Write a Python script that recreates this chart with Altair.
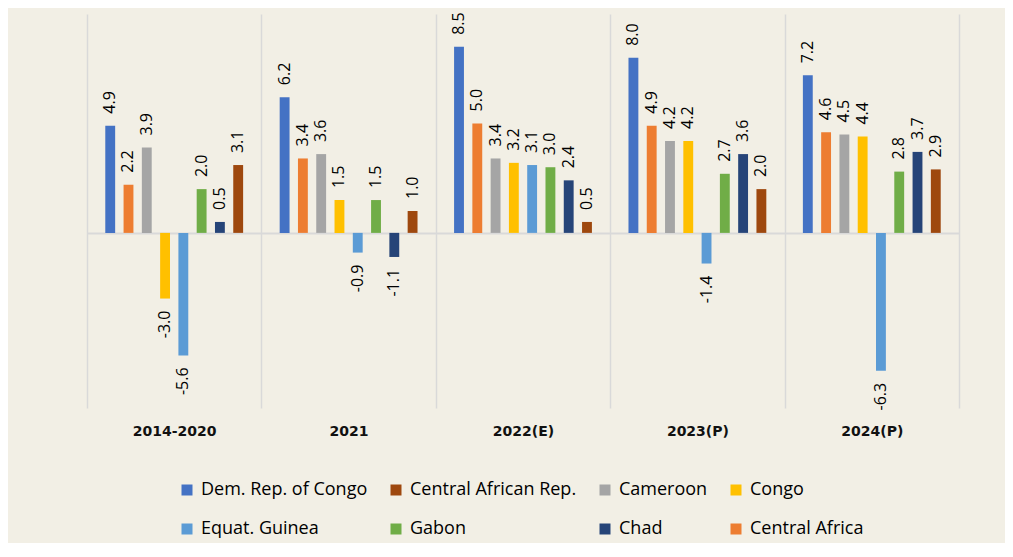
import altair as alt
import pandas as pd

periods = ["2014-2020", "2021", "2022(E)", "2023(P)", "2024(P)"]

bar_order = ["Dem. Rep. of Congo", "Central Africa", "Cameroon", "Congo",
             "Equat. Guinea", "Gabon", "Chad", "Central African Rep."]
legend_order = ["Dem. Rep. of Congo", "Central African Rep.", "Cameroon", "Congo",
                "Equat. Guinea", "Gabon", "Chad", "Central Africa"]
legend_colors = ["#4472C4", "#9E480E", "#A5A5A5", "#FFC000",
                 "#5B9BD5", "#70AD47", "#264478", "#ED7D31"]

drc = [4.9, 6.2, 8.5, 8.0, 7.2]
central_africa = [2.2, 3.4, 5.0, 4.9, 4.6]
cameroon = [3.9, 3.6, 3.4, 4.2, 4.5]
congo = [-3.0, 1.5, 3.2, 4.2, 4.4]
equat_guinea = [-5.6, -0.9, 3.1, -1.4, -6.3]
gabon = [2.0, 1.5, 3.0, 2.7, 2.8]
chad = [0.5, -1.1, 2.4, 3.6, 3.7]
car = [3.1, 1.0, 0.5, 2.0, 2.9]

series = {
    "Dem. Rep. of Congo": drc,
    "Central Africa": central_africa,
    "Cameroon": cameroon,
    "Congo": congo,
    "Equat. Guinea": equat_guinea,
    "Gabon": gabon,
    "Chad": chad,
    "Central African Rep.": car,
}

rows = []
for country, vals in series.items():
    for p, v in zip(periods, vals):
        rows.append({"period": p, "country": country, "value": v, "label": f"{v:.1f}",
                     "pos": v >= 0})
df = pd.DataFrame(rows)

FONT = "Open Sans"

x_enc = alt.X(
    "period:N",
    sort=periods,
    scale=alt.Scale(paddingInner=0, paddingOuter=0),
    axis=alt.Axis(
        title=None, tickBand="extent", grid=True, gridColor="#D9D9D9", gridWidth=1.5,
        domain=False, ticks=False, labelAngle=0, labelFont="DejaVu Sans",
        labelFontSize=14, labelFontWeight="bold", labelColor="#111111", labelPadding=16,
    ),
)
xoff_enc = alt.XOffset("country:N", sort=bar_order,
                       scale=alt.Scale(paddingInner=0.46, paddingOuter=1))
y_enc = alt.Y(
    "value:Q",
    scale=alt.Scale(domain=[-8, 10], nice=False, zero=True),
    axis=alt.Axis(values=[0], grid=True, gridColor="#D9D9D9", gridWidth=2,
                  labels=False, ticks=False, domain=False, title=None),
)

bars = alt.Chart(df).mark_bar().encode(
    x=x_enc, xOffset=xoff_enc, y=y_enc,
    color=alt.Color(
        "country:N",
        scale=alt.Scale(domain=legend_order, range=legend_colors),
        legend=alt.Legend(
            title=None, orient="none", legendX=91, legendY=467, direction="horizontal",
            columns=4, symbolType="square", symbolSize=121, symbolStrokeWidth=0,
            labelFont=FONT, labelFontSize=18, labelColor="#000000",
            columnPadding=19, rowPadding=21, labelOffset=5,
            labelLimit=400,
        ),
    ),
)

pos_text = alt.Chart(df).transform_filter("datum.pos").mark_text(
    angle=270, align="left", baseline="middle", dx=12, font=FONT, fontSize=16, color="#000000"
).encode(x=x_enc, xOffset=xoff_enc, y=y_enc, text="label:N")

neg_text = alt.Chart(df).transform_filter("!datum.pos").mark_text(
    angle=270, align="right", baseline="middle", dx=-12, font=FONT, fontSize=16, color="#000000"
).encode(x=x_enc, xOffset=xoff_enc, y=y_enc, text="label:N")

chart = alt.layer(bars, pos_text, neg_text).properties(
    width=872, height=394,
    autosize=alt.AutoSizeParams(type="none"),
    padding={"left": 79, "top": 6, "right": 46, "bottom": 135},
    background="#F2EFE5",
).configure_view(stroke=None)

chart.save("out.html", embed_options={"renderer": "svg", "actions": False})
